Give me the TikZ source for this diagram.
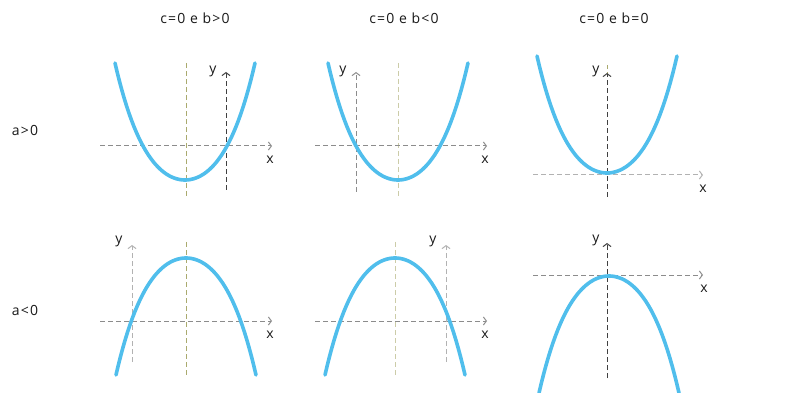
\documentclass[tikz,border=0pt]{standalone}
\usepackage{fontspec}
\setmainfont{Open Sans}[LetterSpace=8]
\usetikzlibrary{arrows.meta}
\definecolor{curveblue}{RGB}{80,190,236}
\definecolor{symgreen}{RGB}{170,170,110}
\definecolor{axgray}{RGB}{140,140,140}
\begin{document}
\begin{tikzpicture}[x=1pt,y=-1pt,line join=round,font=\fontsize{14}{16}\selectfont,
	curve/.style={line width=3.6pt,color=curveblue,line cap=round},
	ax/.style={dash pattern=on 5pt off 3pt,line width=1pt,color=axgray,-{Straight Barb[length=3pt,width=8pt]}},
	yaxdark/.style={ax,color=black!75},
	yaxlight/.style={ax,color=black!30},
	sym/.style={dash pattern=on 5pt off 3pt,line width=1pt,color=symgreen},
	lab/.style={text=black!90,inner sep=0pt}]
	\useasboundingbox (0,0) rectangle (796,393);
	\clip (0,0) rectangle (796,393);
	% parabola: vertex x, vertex y, sign of a
	\def\parab#1#2#3{\draw[curve] plot[domain=-70:70,samples=60] ({#1+\x},{#2-(#3)*(1.668*(\x/10)^2+0.01468*(\x/10)^4)});}
	% column and row titles
	\node[lab] (t1) at (195,18) {c=0 e b>0};
	\node[lab] (t2) at (404,18) {c=0 e b<0};
	\node[lab] (t3) at (614,18) {c=0 e b=0};
	\node[lab] (r1) at (25,130) {a>0};
	\node[lab] (r2) at (25,310) {a<0};
	% a>0, b>0
	\draw[sym] (186,63) -- (186,198);
	\draw[ax] (100,146) -- (272,146);
	\draw[yaxdark] (226,190) -- (226,72);
	\parab{185}{180}{1}
	\node[lab] (y1) at (213,71) {y};
	\node[lab] (x1) at (270,160) {x};
	% a>0, b<0
	\draw[sym,color=symgreen!60] (398,63) -- (398,198);
	\draw[ax] (315,146) -- (487,146);
	\draw[ax] (356,192) -- (356,72);
	\parab{398}{180}{1}
	\node[lab] (y2) at (343,71) {y};
	\node[lab] (x2) at (485,160) {x};
	% a>0, b=0
	\draw[sym] (607,197) -- (607,65);
	\draw[ax,color=black!30] (533,175) -- (703,175);
	\draw[yaxdark] (607,197) -- (607,73);
	\parab{607}{173}{1}
	\node[lab] (y3) at (596,71) {y};
	\node[lab] (x3) at (703,189) {x};
	% a<0, b>0
	\draw[sym] (186,242) -- (186,377);
	\draw[ax] (100,321) -- (272,321);
	\draw[yaxlight] (132,362) -- (132,245);
	\parab{186}{258}{-1}
	\node[lab] (y4) at (119,241) {y};
	\node[lab] (x4) at (270,335) {x};
	% a<0, b<0
	\draw[sym,color=symgreen!60] (395,242) -- (395,377);
	\draw[ax] (315,321) -- (487,321);
	\draw[yaxlight] (446,362) -- (446,245);
	\parab{395}{258}{-1}
	\node[lab] (y5) at (433,241) {y};
	\node[lab] (x5) at (485,335) {x};
	% a<0, b=0
	\draw[sym] (607,378) -- (607,248);
	\draw[ax] (533,275) -- (703,275);
	\draw[yaxdark] (607,378) -- (607,243);
	\parab{609}{276}{-1}
	\node[lab] (y6) at (596,240) {y};
	\node[lab] (x6) at (704,289) {x};
\end{tikzpicture}
\end{document}
